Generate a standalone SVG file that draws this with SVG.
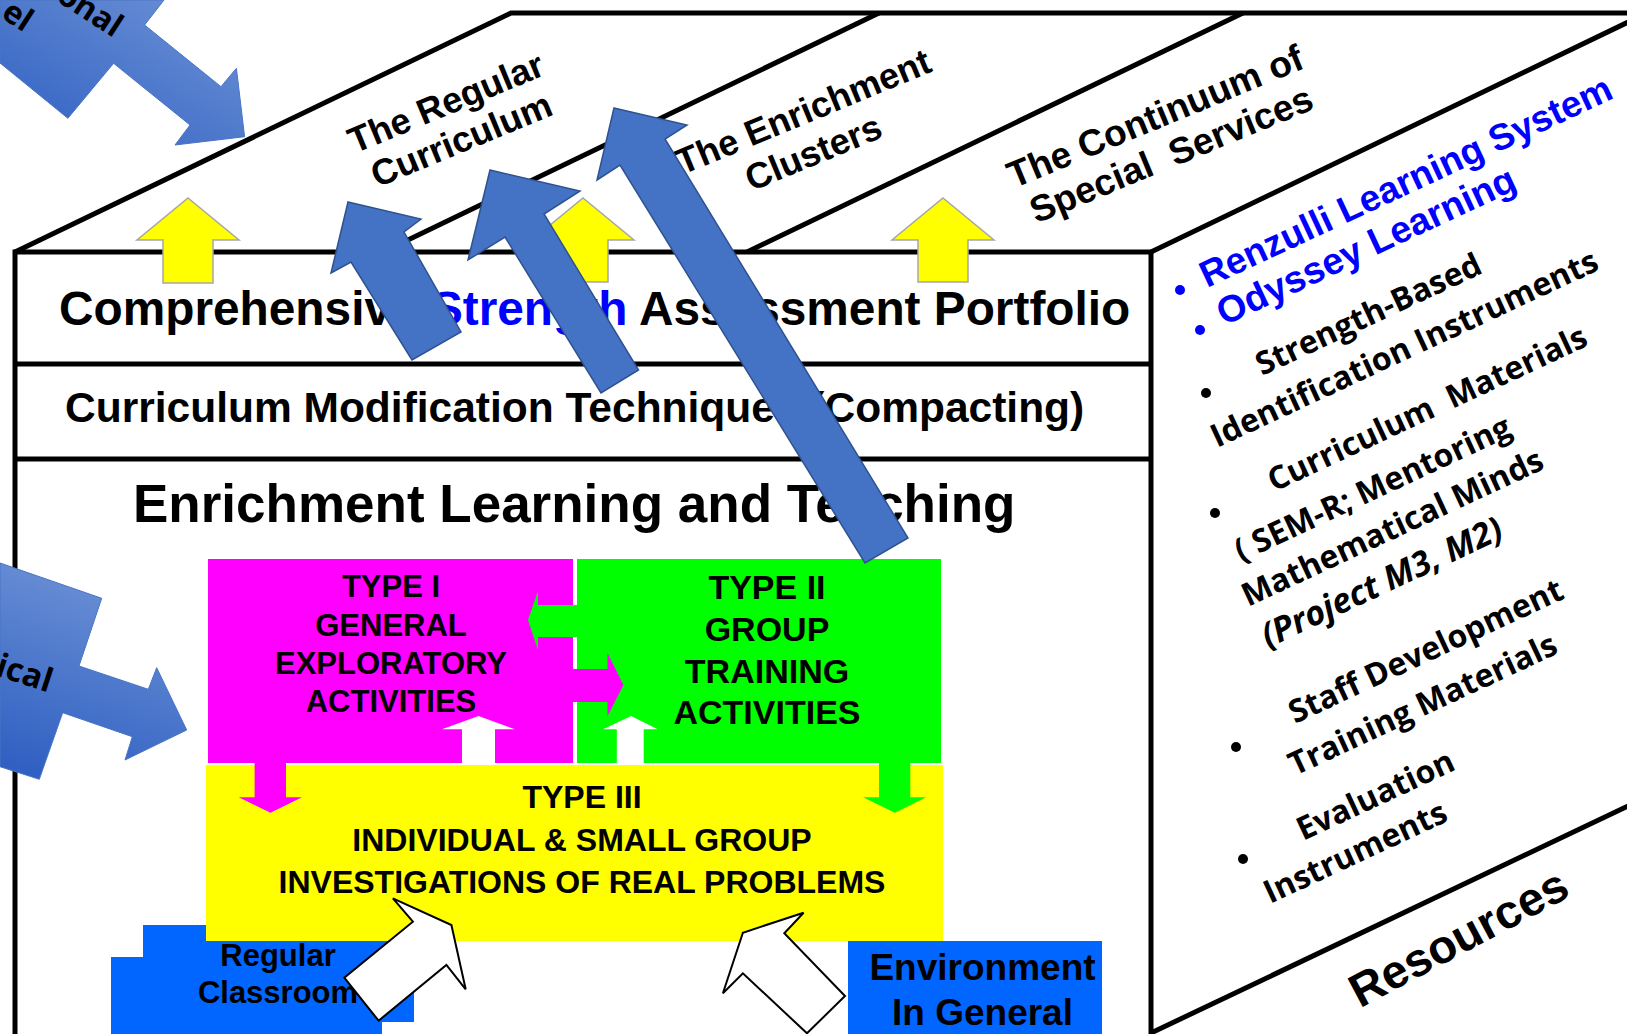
<svg xmlns="http://www.w3.org/2000/svg" width="1627" height="1034" viewBox="0 0 1627 1034">
<defs>
<style>
.ln{fill:none;stroke:#000;stroke-width:5}
.ar{font-family:"Liberation Sans",Arial,sans-serif;font-weight:bold;fill:#000}
.os{font-family:"Open Sans","Noto Sans",sans-serif;font-weight:bold;fill:#000}
.bl{fill:#0000FF}
.mid{text-anchor:middle}
.ya{fill:#FFFF00;stroke:#A6A6A6;stroke-width:1.5}
.ba{fill:#4472C4;stroke:#2F528F;stroke-width:1.5}
.wa{fill:#FFFFFF;stroke:#000;stroke-width:2}
.dot{fill:#000}
</style>
<linearGradient id="g1" x1="1" y1="0" x2="0" y2="1">
<stop offset="0" stop-color="#6E93D6"/><stop offset="1" stop-color="#2F5FC2"/>
</linearGradient>
<linearGradient id="g2" x1="0.6" y1="0" x2="0.3" y2="1">
<stop offset="0" stop-color="#6E93D6"/><stop offset="1" stop-color="#3060C2"/>
</linearGradient>
</defs>
<rect width="1627" height="1034" fill="#FFFFFF"/>

<g id="frame">
<path class="ln" d="M15,1036 V252 H1151 V1036"/>
<path class="ln" d="M15,364 H1151 M15,459 H1151"/>
<path class="ln" d="M15,252 L511,13 H1630"/>
<path class="ln" d="M383,252 L879,13 M747,252 L1243,13 M1151,252 L1647,13 M1151,1033 L1630,805"/>
</g>

<g id="top-labels" class="ar" font-size="36">
<text class="mid" transform="translate(450.7 114) rotate(-22.5)">The Regular</text>
<text class="mid" transform="translate(466 151) rotate(-22.5)">Curriculum</text>
<text class="mid" transform="translate(808 123) rotate(-22.5)">The Enrichment</text>
<text class="mid" transform="translate(818 164) rotate(-22.5)">Clusters</text>
<text class="mid" font-size="37" transform="translate(1160 128) rotate(-22.5)">The Continuum of</text>
<text class="mid" font-size="37" transform="translate(1176 166) rotate(-22.5)" xml:space="preserve">Special  Services</text>
</g>

<g id="portfolio"><text class="ar" x="59" y="325" font-size="47.8">Comprehensive <tspan class="bl">Strength</tspan> Assessment Portfolio</text></g>
<g id="compacting"><text class="ar" x="65" y="422" font-size="42.5">Curriculum Modification Techniques (Compacting)</text></g>
<g id="enrichment"><text class="ar" x="133" y="522" font-size="53">Enrichment Learning and Teaching</text></g>

<g id="resources">
<circle class="bl" cx="1180" cy="290" r="5"/>
<circle class="bl" cx="1200" cy="330" r="5"/>
<text class="ar bl" font-size="37" transform="translate(1207 288) rotate(-25)">Renzulli Learning System</text>
<text class="ar bl" font-size="37.5" transform="translate(1224 326) rotate(-25)">Odyssey Learning</text>
<circle class="dot" cx="1206" cy="393" r="5"/>
<circle class="dot" cx="1215" cy="513" r="5"/>
<circle class="dot" cx="1236" cy="747" r="5"/>
<circle class="dot" cx="1243" cy="859" r="5"/>
<g class="os" font-size="32">
<text transform="translate(1262 376) rotate(-25)">Strength-Based</text>
<text transform="translate(1217 448) rotate(-25)">Identification Instruments</text>
<text transform="translate(1274 492) rotate(-25)" xml:space="preserve">Curriculum  Materials</text>
<text transform="translate(1241 562) rotate(-25)">( SEM-R; Mentoring</text>
<text transform="translate(1248 607) rotate(-25)">Mathematical Minds</text>
<text transform="translate(1268 648) rotate(-25)" font-style="italic" font-size="34">(Project M3, M2)</text>
<text transform="translate(1295 724) rotate(-25)">Staff Development</text>
<text transform="translate(1295 776) rotate(-25)">Training Materials</text>
<text transform="translate(1303 841) rotate(-25)">Evaluation</text>
<text transform="translate(1270 904) rotate(-25)">Instruments</text>
</g>
<text class="ar mid" font-size="47" transform="translate(1466 952) rotate(-28)">Resources</text>
</g>

<g id="regular-classroom">
<rect x="143" y="925" width="271" height="97" fill="#0066FF"/>
<rect x="111" y="957" width="271" height="77" fill="#0066FF"/>
</g>
<g id="environment">
<rect x="848" y="941" width="254" height="93" fill="#0066FF"/>
<text class="ar mid" font-size="37" x="982.5" y="980">Environment</text>
<text class="ar mid" font-size="37" x="982.5" y="1025">In General</text>
</g>

<g id="type1">
<rect x="208" y="559" width="365" height="204" fill="#FF00FF"/>
</g>
<g id="type2">
<rect x="577" y="559" width="364" height="204" fill="#00FF00"/>
</g>
<g id="type3">
<rect x="206" y="765" width="737" height="176" fill="#FFFF00"/>
</g>

<g id="connectors">
<polygon fill="#00FF00" points="580,605 538,605 538,591 528,620 538,650 538,637 580,637"/>
<polygon fill="#FF00FF" points="570,669 607.5,669 607.5,653 623.4,685 607.5,716 607.5,702 570,702"/>
<polygon fill="#FFFFFF" points="478.5,716 515,729.3 495,729.3 495,764 462,764 462,729.3 442,729.3"/>
<polygon fill="#FFFFFF" points="631,716 657.6,729.3 643.7,729.3 643.7,764 616.8,764 616.8,729.3 603,729.3"/>
<polygon fill="#FF00FF" points="254.6,762 286,762 286,797.3 302,797.3 270.5,812.7 238.7,797.3 254.6,797.3"/>
<polygon fill="#00FF00" points="879,762 910.3,762 910.3,797.3 926.3,797.3 894.9,812.7 863,797.3 879,797.3"/>
</g>

<g id="type-texts" class="ar">
<g font-size="31" class="mid">
<text x="391" y="597">TYPE I</text>
<text x="391" y="636">GENERAL</text>
<text x="391" y="674">EXPLORATORY</text>
<text x="391" y="712">ACTIVITIES</text>
</g>
<g font-size="34" class="mid">
<text x="767" y="599">TYPE II</text>
<text x="767" y="641">GROUP</text>
<text x="767" y="683">TRAINING</text>
<text x="767" y="724">ACTIVITIES</text>
</g>
<g font-size="32" class="mid">
<text x="582" y="808">TYPE III</text>
<text x="582" y="851">INDIVIDUAL &amp; SMALL GROUP</text>
<text x="582" y="893">INVESTIGATIONS OF REAL PROBLEMS</text>
</g>
<g font-size="31" class="mid">
<text x="278" y="966">Regular</text>
<text x="278" y="1003">Classroom</text>
</g>
</g>

<g id="up-arrows">
<polygon class="ya" points="188,198 239,240 213,240 213,283 163,283 163,240 137,240"/>
<polygon class="ya" points="583,198 634,240 608,240 608,282 558,282 558,240 532,240"/>
<polygon class="ya" points="943,198 994,240 968,240 968,282 918,282 918,240 892,240"/>
</g>

<g id="blue-arrows">
<polygon class="ba" points="348,202 421,219 404,232 461,332 412,360 351,262 331,273"/>
<polygon class="ba" points="490,170 580,191 544,214 638.5,370 601,393 505,237 468,260"/>
<polygon class="ba" points="614,108 687,125 665,139 908,538 865,563 620,165 597,180"/>
</g>

<g id="left-model-1">
<polygon fill="url(#g1)" stroke="#4A74C4" stroke-width="1" points="0,0 164,0 144.6,25 221,86.7 236.4,68.3 244.6,136.7 175,145 190,125 113.6,63.3 67.9,118.3 0,63"/>
<text class="os" font-size="32" transform="translate(55 0) rotate(33)">onal</text>
<text class="os" font-size="32" transform="translate(0 17) rotate(33)">el</text>
</g>
<g id="left-model-2">
<polygon fill="url(#g2)" stroke="#4A74C4" stroke-width="1" points="0,563 101.7,598.3 79,666 148.3,689.3 156.7,667.7 186.7,730 125,760 132.3,736.7 62.7,712.7 39.3,779.3 0,766.7"/>
<text class="os" font-size="33" transform="translate(-6 675) rotate(18)">ical</text>
</g>

<g id="white-arrows">
<polygon class="wa" points="392.9,898.3 451.4,925 465.7,989.3 446.4,965 378.6,1020.7 344.3,977.7 412.9,921.7"/>
<polygon class="wa" points="803.6,912.7 784.3,933.3 845,996 807,1033.3 742.9,973.3 722.9,993.3 742.9,932.7"/>
</g>
</svg>
